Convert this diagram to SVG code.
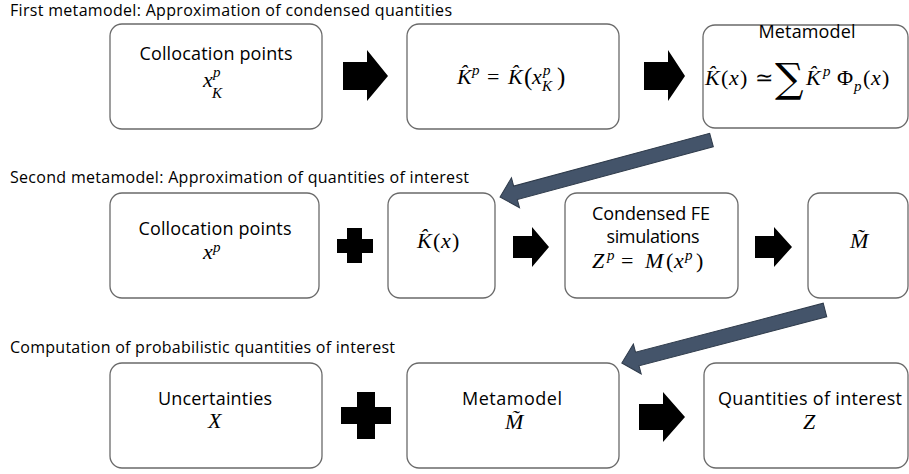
<svg xmlns="http://www.w3.org/2000/svg" width="909" height="474" viewBox="0 0 909 474">
<style>
.box{fill:#fff;stroke:#6a6a6a;stroke-width:1.3}
.lbl{font-family:"Open Sans",sans-serif;font-size:18px;fill:#000;text-anchor:middle}
.ttl{font-family:"Open Sans",sans-serif;font-size:16px;fill:#000}
.m{font-family:"Liberation Serif",serif;font-style:italic;font-size:22px;fill:#000}
.u{font-style:normal}
.s{font-size:15px}
.pr{font-size:25px}
.sum{font-family:"DejaVu Serif",serif;font-size:40px}
.blk{fill:#000}
.diag{fill:#44546A;stroke:#2E3A4A;stroke-width:1}
</style>
<text class="ttl" x="10" y="16" textLength="442">First metamodel: Approximation of condensed quantities</text>
<text class="ttl" x="10" y="183" textLength="459">Second metamodel: Approximation of quantities of interest</text>
<text class="ttl" x="10" y="353" textLength="385">Computation of probabilistic quantities of interest</text>

<g id="n1">
<rect class="box" x="110" y="24" width="212" height="105" rx="12"/>
<text class="lbl" x="216" y="60" textLength="153">Collocation points</text>
<text class="m" x="203" y="87">x</text><text class="m s" x="213" y="77">p</text><text class="m s" x="212" y="98">K</text>
</g>
<g id="n2">
<rect class="box" x="407" y="24" width="212" height="105" rx="12"/>
<text class="m" x="457" y="84">K&#x302;</text><text class="m s" x="472" y="75">p</text>
<text class="m u" x="487" y="84">=</text>
<text class="m" x="508" y="84">K&#x302;</text><text class="m u pr" x="524" y="85">(</text>
<text class="m" x="532" y="84">x</text><text class="m s" x="543" y="75">p</text><text class="m s" x="542" y="91">K</text>
<text class="m u pr" x="557" y="85">)</text>
</g>
<g id="n3">
<rect class="box" x="703" y="25" width="205" height="103" rx="12"/>
<text class="lbl" x="807" y="38" textLength="97">Metamodel</text>
<text class="m" x="705" y="85">K&#x302;</text><text class="m u" x="721" y="85">(</text><text class="m" x="729" y="85">x</text><text class="m u" x="740" y="85">)</text>
<text class="m u" x="755" y="85">≃</text>
<text class="m u sum" x="775" y="92">∑</text>
<text class="m" x="806" y="85">K&#x302;</text><text class="m s" x="823" y="76">p</text>
<text class="m u" x="837" y="85">Φ</text><text class="m s" x="854" y="91">p</text>
<text class="m u" x="863" y="85">(</text><text class="m" x="871" y="85">x</text><text class="m u" x="882" y="85">)</text>
</g>

<g id="n4">
<rect class="box" x="110" y="193" width="209" height="105" rx="12"/>
<text class="lbl" x="215" y="235" textLength="153">Collocation points</text>
<text class="m" x="203" y="259">x</text><text class="m s" x="213" y="252">p</text>
</g>
<g id="n5">
<rect class="box" x="388" y="193" width="107" height="105" rx="12"/>
<text class="m" x="417" y="248">K&#x302;</text><text class="m u" x="433" y="248">(</text><text class="m" x="441" y="248">x</text><text class="m u" x="452" y="248">)</text>
</g>
<g id="n6">
<rect class="box" x="565" y="193" width="173" height="105" rx="12"/>
<text class="lbl" x="651" y="220" textLength="118">Condensed FE</text>
<text class="lbl" x="653" y="243" textLength="93">simulations</text>
<text class="m" x="592" y="268">Z</text><text class="m s" x="607" y="260">p</text>
<text class="m u" x="621" y="268">=</text>
<text class="m" x="645" y="268">M</text><text class="m u" x="666" y="268">(</text><text class="m" x="674" y="268">x</text><text class="m s" x="685" y="260">p</text><text class="m u" x="696" y="268">)</text>
</g>
<g id="n7">
<rect class="box" x="808" y="193" width="100" height="105" rx="12"/>
<text class="m" x="850" y="248">M&#x303;</text>
</g>

<g id="n8">
<rect class="box" x="110" y="363" width="212" height="105" rx="12"/>
<text class="lbl" x="215" y="405" textLength="114">Uncertainties</text>
<text class="m" x="208" y="428">X</text>
</g>
<g id="n9">
<rect class="box" x="407" y="363" width="212" height="105" rx="12"/>
<text class="lbl" x="512" y="405" textLength="100">Metamodel</text>
<text class="m" x="505" y="429">M&#x303;</text>
</g>
<g id="n10">
<rect class="box" x="704" y="363" width="204" height="105" rx="12"/>
<text class="lbl" x="810" y="405" textLength="184">Quantities of interest</text>
<text class="m" x="803" y="429">Z</text>
</g>

<g id="connectors">
<polygon class="blk" points="343,62 367,62 367,50 388,76 367,101 367,90 343,90"/>
<polygon class="blk" points="644,62 668,62 668,50 685,76 668,101 668,90 644,90"/>
<polygon class="blk" points="513,236 532,236 532,227 549,247 532,267 532,258 513,258"/>
<polygon class="blk" points="755,236 774,236 774,227 792,247 774,267 774,258 755,258"/>
<polygon class="blk" points="639,404 663,404 663,392 685,417 663,442 663,430 639,430"/>
<polygon class="blk" points="347,228 362,228 362,239 373,239 373,253 362,253 362,263 347,263 347,253 337,253 337,239 347,239"/>
<polygon class="blk" points="357,392 375,392 375,407 391,407 391,424 375,424 375,439 357,439 357,424 341,424 341,407 357,407"/>
<polygon class="diag" transform="translate(711.5,140) rotate(164.92)" points="0,-7 203,-7 203,-15.5 219,0 203,15.5 203,7 0,7"/>
<polygon class="diag" transform="translate(825,310) rotate(165.37)" points="0,-7 194,-7 194,-15.5 210,0 194,15.5 194,7 0,7"/>
</g>
</svg>
